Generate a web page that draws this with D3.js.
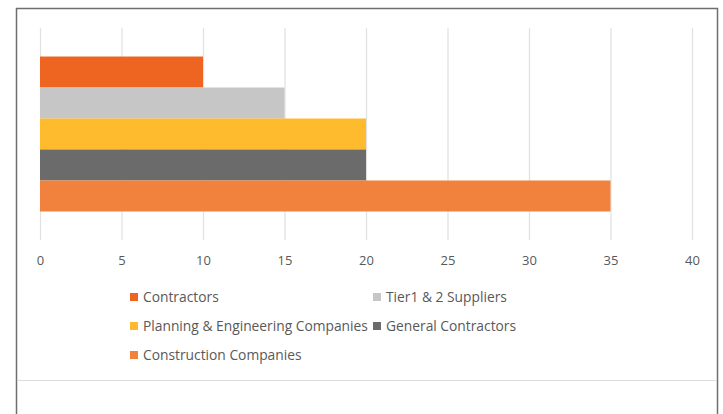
<!DOCTYPE html>
<html>
<head>
<meta charset="utf-8">
<script src="https://cdn.jsdelivr.net/npm/d3@7"></script>
<style>
  body { margin: 0; background: #fff; }
  svg { display: block; }
</style>
</head>
<body>
<svg id="chart_svg"></svg>
<script>
// data, top to bottom as drawn
const categories = ["Contractors", "Tier1 & 2 Suppliers", "Planning & Engineering Companies", "General Contractors", "Construction Companies"];
const values = [10, 15, 20, 20, 35];
const colors = ["#ee6521", "#c6c6c6", "#fdbb2d", "#6b6b6b", "#f0823d"];
const xTicks = [0, 5, 10, 15, 20, 25, 30, 35, 40];

// legend order (row by row, two columns)
const legendRows = [
    ["Contractors", "Tier1 & 2 Suppliers"],
    ["Planning & Engineering Companies", "General Contractors"],
    ["Construction Companies"]
];

const width = 723, height = 414;
const font = "'Open Sans', 'Liberation Sans', sans-serif";

const svg = d3.select("#chart_svg")
    .attr("width", width)
    .attr("height", height);

// frame
svg.append("rect")
    .attr("x", 16.5).attr("y", 8.5)
    .attr("width", 701).attr("height", 420)
    .attr("fill", "#fff")
    .attr("stroke", "#6e6e6e")
    .attr("stroke-width", 1.5);

svg.append("line")
    .attr("x1", 17).attr("x2", 717)
    .attr("y1", 380.5).attr("y2", 380.5)
    .attr("stroke", "#dcdcdc");

// scales
const xScale = d3.scaleLinear()
    .domain([0, 40])
    .range([40, 692]);

const yScale = d3.scaleBand()
    .domain(categories)
    .range([28, 240])
    .paddingInner(0)
    .paddingOuter(0.92);

// gridlines
svg.append("g")
    .selectAll("line")
    .data(xTicks)
    .enter()
    .append("line")
    .attr("x1", d => xScale(d) + 0.5)
    .attr("x2", d => xScale(d) + 0.5)
    .attr("y1", 28)
    .attr("y2", 240)
    .attr("stroke", "#e2e2e2")
    .attr("stroke-width", 1.3);

// bars
svg.selectAll(".bar")
    .data(categories)
    .enter()
    .append("rect")
    .attr("class", "bar")
    .attr("x", xScale(0))
    .attr("y", d => yScale(d))
    .attr("width", (d, i) => xScale(values[i]) - xScale(0))
    .attr("height", yScale.bandwidth())
    .attr("fill", (d, i) => colors[i]);

// x axis labels
const xAxis = d3.axisBottom(xScale)
    .tickValues(xTicks)
    .tickSize(0)
    .tickPadding(0);

const axisG = svg.append("g")
    .attr("transform", "translate(0, 256)")
    .call(xAxis);
axisG.select(".domain").remove();
axisG.selectAll("text")
    .attr("fill", "#595959")
    .style("font-family", font)
    .style("font-size", "13px");

// legend
const colX = [130, 373];
const rowY = [297, 326, 355];
const legend = svg.append("g");
legendRows.forEach((row, r) => {
    row.forEach((name, c) => {
        const i = categories.indexOf(name);
        const g = legend.append("g")
            .attr("transform", `translate(${colX[c]}, ${rowY[r]})`);
        g.append("rect")
            .attr("x", 0).attr("y", -4)
            .attr("width", 8).attr("height", 8)
            .attr("fill", colors[i]);
        g.append("text")
            .attr("x", 13)
            .attr("dy", "0.35em")
            .attr("fill", "#595959")
            .style("font-family", font)
            .style("font-size", "13.8px")
            .text(name);
    });
});
</script>
</body>
</html>
